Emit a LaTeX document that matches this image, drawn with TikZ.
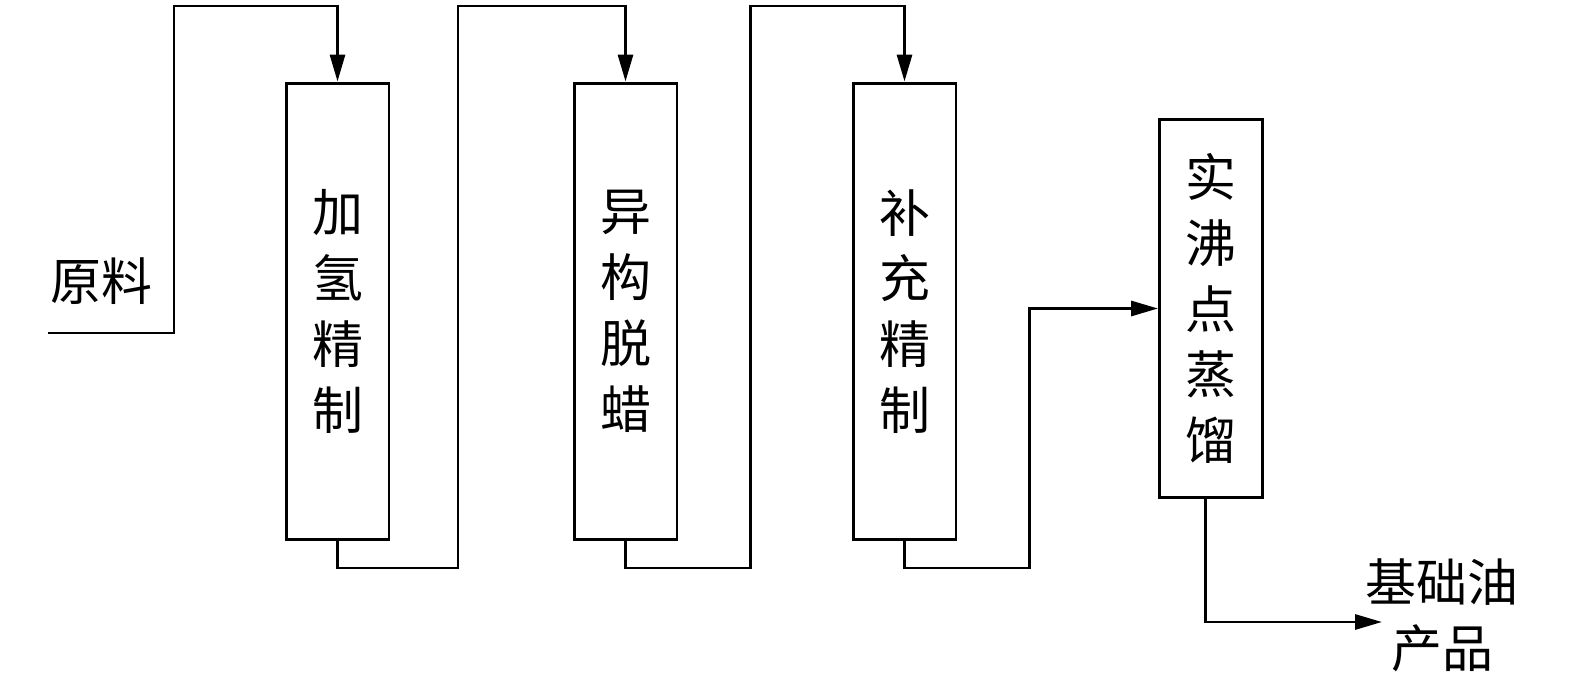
\documentclass[tikz,border=0pt]{standalone}
\usepackage{fontspec}
\newfontfamily\cjk{Noto Sans CJK SC}
\usetikzlibrary{arrows.meta}

\begin{document}
\begin{tikzpicture}[x=0.02cm, y=-0.02cm, line width=1.7pt,
	unit/.style={draw, minimum width=2.06cm, minimum height=9.14cm, inner sep=0pt, align=center},
	label/.style={align=center, inner sep=0pt},
	every node/.style={font=\cjk\fontsize{29}{37.5}\selectfont},
	>={Triangle[length=0.54cm, width=0.3cm]}]
\useasboundingbox (0,0) rectangle (1575,689);
% units
\node[unit] (hj) at (337.5,311.5) {加\\氢\\精\\制};
\node[unit] (yg) at (625.5,311.5) {异\\构\\脱\\蜡};
\node[unit] (bc) at (904.5,311.5) {补\\充\\精\\制};
\node[unit, minimum height=7.58cm] (sf) at (1211,308.5) {实\\沸\\点\\蒸\\馏};
% feed and product
\node[label] (feed) at (101,281) {原料};
\node[label] (prod) at (1442,615) {基础油\\产品};
\coordinate (in) at (48,333);
\coordinate (out) at (1382,622);
% flow lines
\draw[->] (in) -| (174,6) -| (hj.north);
\draw[->] (hj.south) |- (458,568) |- (623,6) -| (yg.north);
\draw[->] (yg.south) |- (750,568) |- (900,6) -| (bc.north);
\draw[->] (bc.south) |- (1029,568) |- (sf.west);
\draw[->] ([xshift=-0.12cm]sf.south) |- (out);
\end{tikzpicture}
\end{document}
